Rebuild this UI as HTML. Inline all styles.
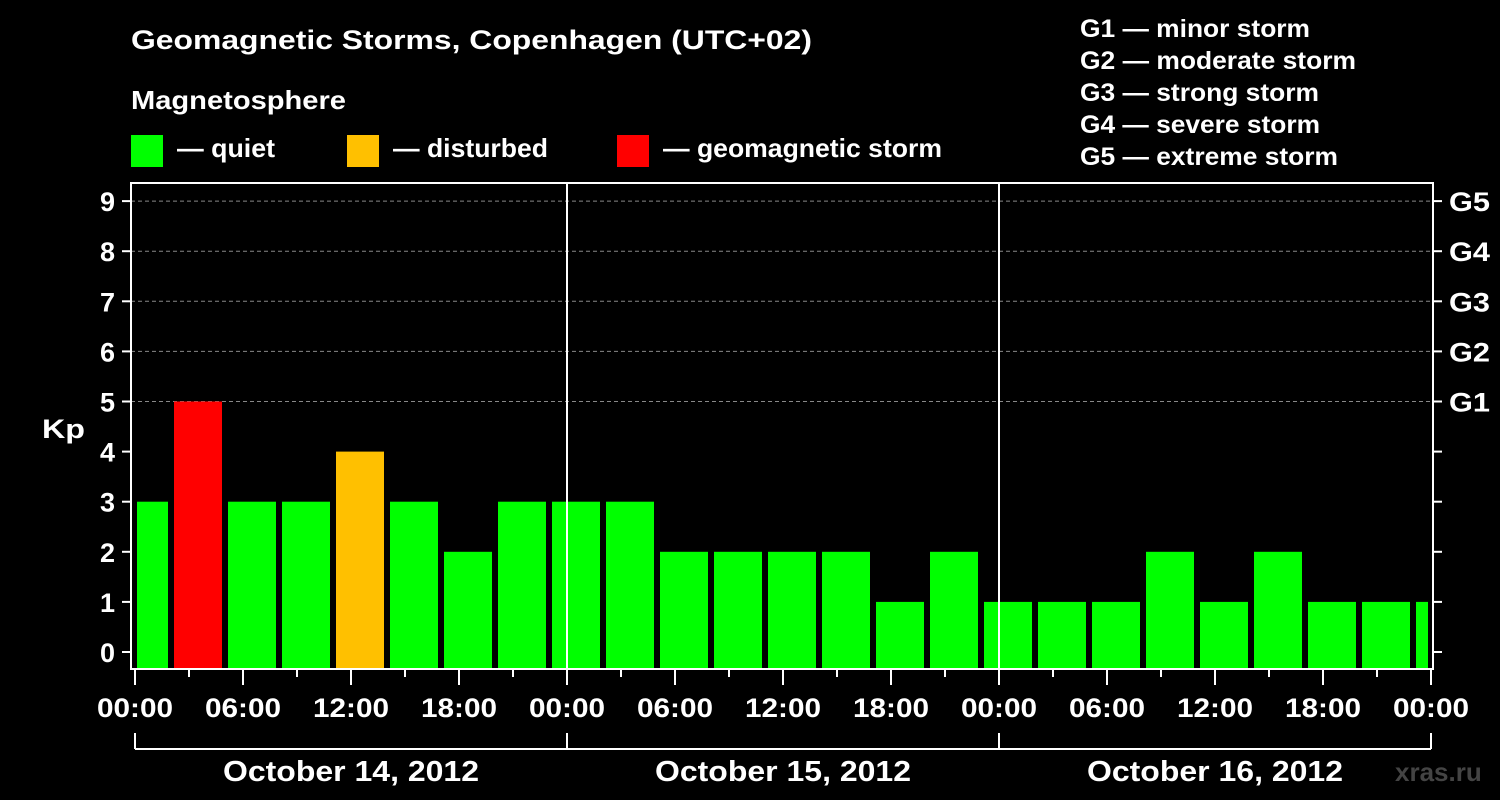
<!DOCTYPE html>
<html><head><meta charset="utf-8"><style>
body{margin:0;background:#000;}
svg{display:block;font-family:"Liberation Sans",Arial,sans-serif;font-weight:bold;}
</style></head><body>
<svg id="c" width="1500" height="800">
<rect width="1500" height="800" fill="#000"/>
<text x="131" y="49" fill="#fff" font-size="27" textLength="681" lengthAdjust="spacingAndGlyphs">Geomagnetic Storms, Copenhagen (UTC+02)</text>
<text x="131" y="109" fill="#fff" font-size="26" textLength="215" lengthAdjust="spacingAndGlyphs">Magnetosphere</text>
<g><rect x="131" y="135" width="32" height="32" fill="#00ff00"/><text x="177" y="157" fill="#fff" font-size="26" textLength="98" lengthAdjust="spacingAndGlyphs">— quiet</text></g>
<g><rect x="347" y="135" width="32" height="32" fill="#ffc000"/><text x="393" y="157" fill="#fff" font-size="26" textLength="155" lengthAdjust="spacingAndGlyphs">— disturbed</text></g>
<g><rect x="617" y="135" width="32" height="32" fill="#ff0000"/><text x="663" y="157" fill="#fff" font-size="26" textLength="279" lengthAdjust="spacingAndGlyphs">— geomagnetic storm</text></g>
<g fill="#fff" font-size="25">
<text x="1080" y="37" textLength="230" lengthAdjust="spacingAndGlyphs">G1 — minor storm</text>
<text x="1080" y="69" textLength="276" lengthAdjust="spacingAndGlyphs">G2 — moderate storm</text>
<text x="1080" y="101" textLength="239" lengthAdjust="spacingAndGlyphs">G3 — strong storm</text>
<text x="1080" y="133" textLength="240" lengthAdjust="spacingAndGlyphs">G4 — severe storm</text>
<text x="1080" y="165" textLength="258" lengthAdjust="spacingAndGlyphs">G5 — extreme storm</text>
</g>
<text x="42" y="438" fill="#fff" font-size="27" textLength="43" lengthAdjust="spacingAndGlyphs">Kp</text>
<text x="1395" y="781" fill="#444" font-size="26">xras.ru</text>
<g id="grid"></g><g id="bars"></g><g id="axes"></g>
</svg>
<script>
const kpValues=[3,5,3,3,4,3,2,3,3,3,2,2,2,2,1,2,1,1,1,2,1,2,1,1,1];
const yTicks=[0,1,2,3,4,5,6,7,8,9];
const gLabels=["G1","G2","G3","G4","G5"];
const xTickLabels=["00:00","06:00","12:00","18:00","00:00","06:00","12:00","18:00","00:00","06:00","12:00","18:00","00:00"];
const dayLabels=["October 14, 2012","October 15, 2012","October 16, 2012"];
const NS="http://www.w3.org/2000/svg";
const L=131,R=1433,T=183,B=669;
function xh(h){return 135+h*18;}
function yk(v){return 652-v*50.1;}
function mk(p,tag,a,txt){const e=document.createElementNS(NS,tag);for(const k in a)e.setAttribute(k,a[k]);if(txt!=null)e.textContent=txt;p.appendChild(e);return e;}
const grid=document.getElementById('grid'),bars=document.getElementById('bars'),axes=document.getElementById('axes');
yTicks.forEach(v=>{if(v>=5){const g=mk(grid,'line',{x1:L,x2:R,y1:yk(v),y2:yk(v),stroke:'#888','stroke-dasharray':'4,3','stroke-width':1});

}});
kpValues.forEach((v,i)=>{
 let x0=xh(3*i-1)+3,x1=x0+48;
 x0=Math.max(x0,L+6);x1=Math.min(x1,R-5);
 const col=v>=5?'#ff0000':(v>=4?'#ffc000':'#00ff00');
 const r=mk(bars,'rect',{x:x0,y:yk(v),width:x1-x0,height:B-yk(v),fill:col});
 
 
});
[1,2].forEach(d=>{const l=mk(axes,'line',{x1:xh(24*d),x2:xh(24*d),y1:T,y2:B,stroke:'#fff','stroke-width':2});

});
const fr=mk(axes,'rect',{x:L,y:T,width:R-L,height:B-T,fill:'none',stroke:'#fff','stroke-width':2});


yTicks.forEach(v=>{
 mk(axes,'line',{x1:L-9,x2:L,y1:yk(v),y2:yk(v),stroke:'#fff','stroke-width':2});
 mk(axes,'line',{x1:R,x2:R+9,y1:yk(v),y2:yk(v),stroke:'#fff','stroke-width':2});
 const t=mk(axes,'text',{x:L-16,y:yk(v)+10,fill:'#fff','font-size':27,'text-anchor':'end'},String(v));
 
 
 if(v>=5){const g=mk(axes,'text',{x:1449,y:yk(v)+10,fill:'#fff','font-size':27,textLength:41,lengthAdjust:'spacingAndGlyphs'},gLabels[v-5]);
 
 }
});
for(let h=0;h<=72;h+=3){const maj=h%6===0;mk(axes,'line',{x1:xh(h),x2:xh(h),y1:B,y2:maj?685:677,stroke:'#fff','stroke-width':2});}
xTickLabels.forEach((s,i)=>{const t=mk(axes,'text',{x:xh(i*6)-38,y:717,fill:'#fff','font-size':27,textLength:76,lengthAdjust:'spacingAndGlyphs'},s);

});
mk(axes,'line',{x1:xh(0),x2:xh(72),y1:749,y2:749,stroke:'#fff','stroke-width':2});
for(let d=0;d<=3;d++)mk(axes,'line',{x1:xh(24*d),x2:xh(24*d),y1:733,y2:749,stroke:'#fff','stroke-width':2});
dayLabels.forEach((s,i)=>{const t=mk(axes,'text',{x:xh(24*i+12)-128,y:781,fill:'#fff','font-size':29,textLength:256,lengthAdjust:'spacingAndGlyphs'},s);

});
</script>
</body></html>
